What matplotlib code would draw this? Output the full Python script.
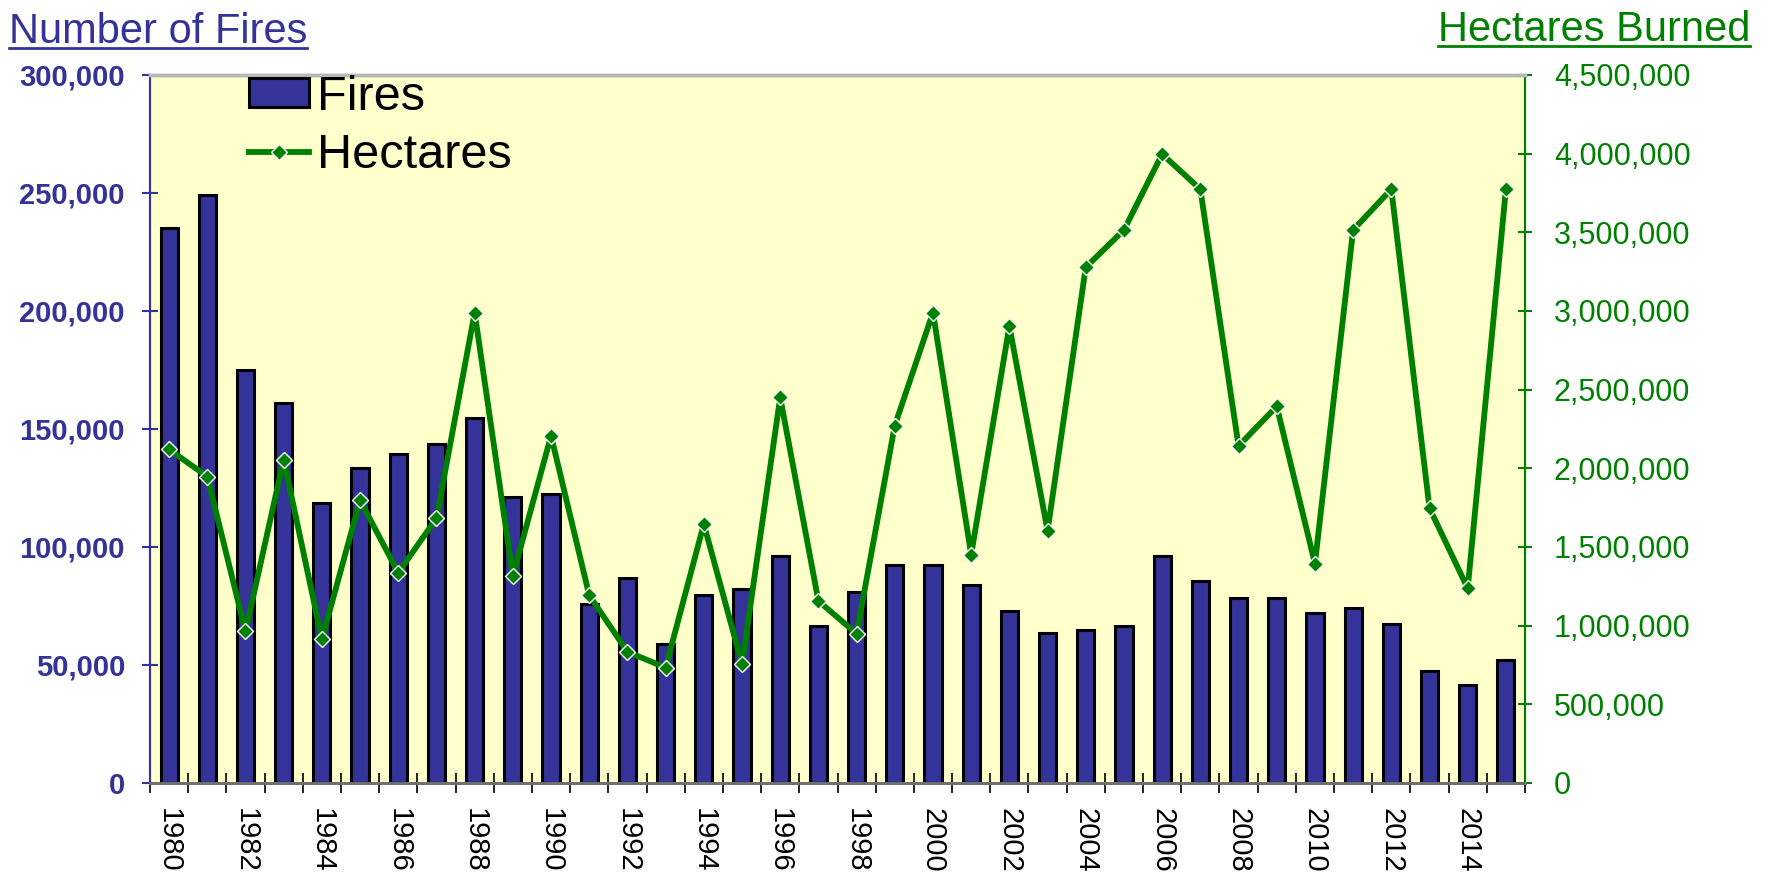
"""
Fires and hectares burned per year, bars on the left axis and a line on the right.
"""
import matplotlib
matplotlib.use("Agg")
import matplotlib.pyplot as plt
from matplotlib.lines import Line2D
from matplotlib.ticker import FuncFormatter, FixedLocator

plt.rcParams["font.family"] = ["Liberation Sans", "DejaVu Sans"]

# Data
YEARS = list(range(1980, 2016))
FIRES = [235000, 249000, 175000, 161000, 118500, 133500, 139500, 143500, 154500, 121000,
         122500, 76000, 87000, 59000, 79500, 82000, 96000, 66500, 81000, 92500,
         92500, 84000, 73000, 63500, 65000, 66500, 96000, 85500, 78500, 78500,
         72000, 74000, 67500, 47500, 41500, 52000]
HECTARES = [2120000, 1948000, 963000, 2056000, 913000, 1797000, 1337000, 1682000, 2990000, 1316000,
            2207000, 1193000, 834000, 733000, 1646000, 755000, 2451000, 1157000, 949000, 2272000,
            2990000, 1452000, 2904000, 1603000, 3278000, 3515000, 3997000, 3774000, 2142000, 2394000,
            1395000, 3515000, 3774000, 1747000, 1237000, 3774000]
X_LABELS = [str(y) if y % 2 == 0 else "" for y in YEARS]

NAVY = "#333399"
GREEN = "#008000"
W, H = 1773, 877

fig = plt.figure(figsize=(W / 100, H / 100), dpi=100)
ax = fig.add_axes([150 / W, 1 - 783 / H, 1375 / W, 708 / H])
ax.set_facecolor("#FFFFCC")
ax2 = ax.twinx()

idx = list(range(len(YEARS)))
bars = ax.bar(idx, FIRES, width=0.45, color=NAVY, edgecolor="black", linewidth=2.2,
              label="Fires", zorder=2)
line, = ax2.plot(idx, HECTARES, color=GREEN, lw=4.2, marker="D", ms=8.5,
                 mfc=GREEN, mec="white", mew=1, label="Hectares")

ax.set_xlim(-0.5, len(YEARS) - 0.5)
ax.set_ylim(0, 300000)
ax2.set_ylim(0, 4500000)
ax.set_yticks(range(0, 300001, 50000))
ax2.set_yticks(range(0, 4500001, 500000))

fmt = FuncFormatter(lambda v, _: f"{v:,.0f}")
ax.yaxis.set_major_formatter(fmt)
ax2.yaxis.set_major_formatter(fmt)

# x: labels at category centres, tick marks at category borders
ax.set_xticks(idx)
ax.set_xticklabels(X_LABELS, rotation=-90, fontsize=21)
ax.xaxis.set_minor_locator(FixedLocator([i - 0.5 for i in range(len(YEARS) + 1)]))
ax.tick_params(axis="x", which="major", length=0, pad=18)
ax.tick_params(axis="x", which="minor", direction="inout", length=14.5, width=1.2,
               color="black")

ax.tick_params(axis="y", direction="inout", length=12, width=1.5, color=NAVY,
               labelcolor=NAVY, labelsize=21, pad=12)
for lbl in ax.get_yticklabels():
    lbl.set_fontweight("bold")
ax2.tick_params(axis="y", direction="inout", length=9.5, width=1.5, color=GREEN,
                labelcolor=GREEN, labelsize=22, pad=16)

for a in (ax, ax2):
    a.spines["left"].set_color(NAVY)
    a.spines["left"].set_linewidth(1.5)
    a.spines["right"].set_color(GREEN)
    a.spines["right"].set_linewidth(1.5)
    a.spines["top"].set_color("#b8b8b8")
    a.spines["top"].set_linewidth(2.5)
    a.spines["bottom"].set_color("#707070")
    a.spines["bottom"].set_linewidth(2)

ax2.legend(handles=[bars, line], loc="upper left", bbox_to_anchor=(0.072, 1.0),
           frameon=False, fontsize=35, handlelength=1.23, handleheight=0.53,
           handletextpad=0.17, labelspacing=0.27, borderpad=0, borderaxespad=0,
           numpoints=1)

# axis titles, underlined
t1 = fig.text(9 / W, 1 - 43 / H, "Number of Fires", fontsize=30, color=NAVY,
              ha="left", va="baseline")
t2 = fig.text(1750 / W, 1 - 41 / H, "Hectares Burned", fontsize=30, color=GREEN,
              ha="right", va="baseline")
renderer = fig.canvas.get_renderer()
for t, y_px in ((t1, 48), (t2, 46)):
    bb = t.get_window_extent(renderer)
    fig.add_artist(Line2D([bb.x0 / W, bb.x1 / W], [1 - y_px / H, 1 - y_px / H],
                          transform=fig.transFigure, color=t.get_color(), lw=2))

fig.savefig("out.png", dpi=100)
